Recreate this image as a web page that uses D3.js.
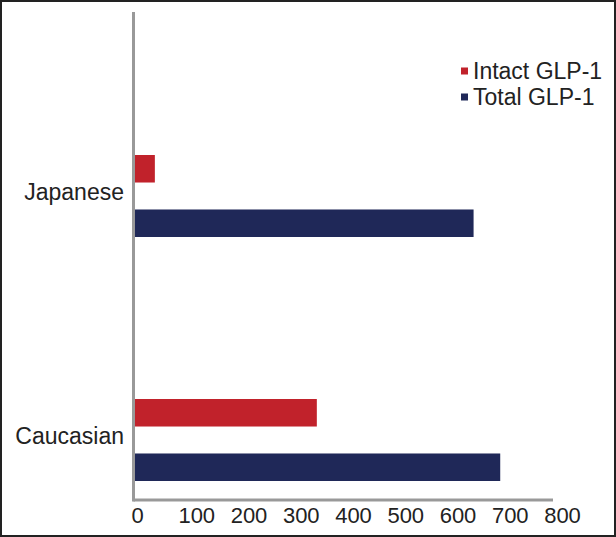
<!DOCTYPE html>
<html>
<head>
<meta charset="utf-8">
<script src="https://cdn.jsdelivr.net/npm/d3@7"></script>
<style>
  body { margin: 0; background: #fff; }
  svg { display: block; font-family: "Liberation Sans", Arial, sans-serif; }
</style>
</head>
<body>
<svg id="chart" width="616" height="537"></svg>
<script>
// data
var groups = ["Japanese", "Caucasian"];
var series = ["Intact GLP-1", "Total GLP-1"];
var intactValues = [38, 348];
var totalValues = [648, 699];
var xTicks = [0, 100, 200, 300, 400, 500, 600, 700, 800];

var colors = { "Intact GLP-1": "#c1222b", "Total GLP-1": "#1f2858" };

var rows = [];
groups.forEach(function(g, i) {
  rows.push({ group: g, series: series[0], value: intactValues[i] });
  rows.push({ group: g, series: series[1], value: totalValues[i] });
});

var svg = d3.select("#chart");

// frame round the figure
svg.append("rect")
  .attr("x", 1).attr("y", 1)
  .attr("width", 614).attr("height", 535)
  .attr("fill", "none")
  .attr("stroke", "#222")
  .attr("stroke-width", 2);

var x = d3.scaleLinear().domain([0, 800]).range([135, 553]);
var yGroup = d3.scalePoint().domain(groups).range([196, 440]);
var ySeries = d3.scaleBand().domain(series).range([-41, 41]).paddingInner(0.495);

// bars
svg.append("g").selectAll("rect")
  .data(rows)
  .join("rect")
  .attr("x", x(0))
  .attr("y", function(d) { return yGroup(d.group) + ySeries(d.series); })
  .attr("width", function(d) { return x(d.value) - x(0); })
  .attr("height", ySeries.bandwidth())
  .attr("fill", function(d) { return colors[d.series]; });

// x axis
var xAxis = d3.axisBottom(x).tickValues(xTicks).tickSize(0).tickPadding(7);
var gx = svg.append("g")
  .attr("transform", "translate(0,500)")
  .call(xAxis);
gx.select(".domain").attr("stroke", "#999").attr("stroke-width", 3)
  .attr("d", "M" + (x(0) - 1.5) + ",0H" + x(800));
gx.selectAll("text")
  .attr("fill", "#222")
  .style("font-size", "22px")
  .attr("dx", function(d) { return d ? 9 : 2; });

// y axis line
svg.append("line")
  .attr("x1", x(0) - 1.5).attr("x2", x(0) - 1.5)
  .attr("y1", 12).attr("y2", 501.5)
  .attr("stroke", "#999")
  .attr("stroke-width", 3);

// category labels
svg.append("g").selectAll("text")
  .data(groups)
  .join("text")
  .attr("x", 124)
  .attr("y", function(d) { return yGroup(d) + 4; })
  .attr("text-anchor", "end")
  .attr("fill", "#222")
  .style("font-size", "23px")
  .text(function(d) { return d; });

// legend
var legend = svg.append("g").selectAll("g")
  .data(series)
  .join("g")
  .attr("transform", function(d, i) { return "translate(461," + (71 + i * 26) + ")"; });
legend.append("rect")
  .attr("x", 0).attr("y", -3.5)
  .attr("width", 7).attr("height", 7)
  .attr("fill", function(d) { return colors[d]; });
legend.append("text")
  .attr("x", 12)
  .attr("y", 8)
  .attr("fill", "#222")
  .style("font-size", "23px")
  .text(function(d) { return d; });
</script>
</body>
</html>
